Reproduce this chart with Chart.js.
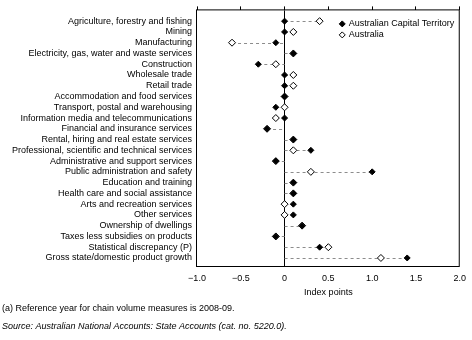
<!DOCTYPE html>
<html>
<head>
<meta charset="utf-8">
<script src="https://cdn.jsdelivr.net/npm/chart.js@4.4.1/dist/chart.umd.min.js"></script>
<style>
	body { margin: 0; background: #fff; }
	#chart { display: block; }
</style>
</head>
<body>
<canvas id="chart" width="472" height="340"></canvas>
<script>
// DATA
const categories = [
	'Agriculture, forestry and fishing',
	'Mining',
	'Manufacturing',
	'Electricity, gas, water and waste services',
	'Construction',
	'Wholesale trade',
	'Retail trade',
	'Accommodation and food services',
	'Transport, postal and warehousing',
	'Information media and telecommunications',
	'Financial and insurance services',
	'Rental, hiring and real estate services',
	'Professional, scientific and technical services',
	'Administrative and support services',
	'Public administration and safety',
	'Education and training',
	'Health care and social assistance',
	'Arts and recreation services',
	'Other services',
	'Ownership of dwellings',
	'Taxes less subsidies on products',
	'Statistical discrepancy (P)',
	'Gross state/domestic product growth'
];
const actValues = [0, 0, -0.1, 0.1, -0.3, 0, 0, 0, -0.1, 0, -0.2, 0.1, 0.3, -0.1, 1.0, 0.1, 0.1, 0.1, 0.1, 0.2, -0.1, 0.4, 1.4];
const ausValues = [0.4, 0.1, -0.6, 0.1, -0.1, 0.1, 0.1, 0, 0, -0.1, -0.2, 0.1, 0.1, -0.1, 0.3, 0.1, 0.1, 0, 0, 0.2, -0.1, 0.5, 1.1];
const xTicks = [-1, -0.5, 0, 0.5, 1, 1.5, 2];
const seriesNames = ['Australian Capital Territory', 'Australia'];
const footnote = '(a) Reference year for chain volume measures is 2008-09.';
const sourceNote = 'Source: Australian National Accounts: State Accounts (cat. no. 5220.0).';

const FONT = "'Liberation Sans', Arial, sans-serif";
Chart.defaults.font.family = FONT;
Chart.defaults.font.size = 9;
Chart.defaults.color = '#000';

function fmtTick(v) {
	if (v === 0) return '0';
	return (v < 0 ? '\u2212' : '') + Math.abs(v).toFixed(1);
}

function diamond(ctx, x, y, r, filled) {
	ctx.beginPath();
	ctx.moveTo(x, y - r);
	ctx.lineTo(x + r, y);
	ctx.lineTo(x, y + r);
	ctx.lineTo(x - r, y);
	ctx.closePath();
	ctx.fillStyle = filled ? '#000' : '#fff';
	ctx.fill();
	ctx.strokeStyle = '#000';
	ctx.lineWidth = 1;
	ctx.stroke();
}

// dashed connector from zero to the furthest point of each row
const dashPlugin = {
	id: 'dashes',
	beforeDatasetsDraw(chart) {
		const {ctx, scales: {x, y}} = chart;
		ctx.save();
		ctx.strokeStyle = '#8c8c8c';
		ctx.lineWidth = 1;
		ctx.setLineDash([3, 3]);
		categories.forEach((c, i) => {
			const lo = Math.min(0, actValues[i], ausValues[i]);
			const hi = Math.max(0, actValues[i], ausValues[i]);
			if (hi - lo <= 0) return;
			const py = Math.round(y.getPixelForValue(i)) + 0.5;
			ctx.beginPath();
			ctx.moveTo(x.getPixelForValue(lo), py);
			ctx.lineTo(x.getPixelForValue(hi), py);
			ctx.stroke();
		});
		ctx.restore();
	}
};

// frame, legend and notes
const extrasPlugin = {
	id: 'extras',
	afterDraw(chart) {
		const {ctx, chartArea: a} = chart;
		ctx.save();
		ctx.strokeStyle = '#000';
		ctx.lineWidth = 1;
		ctx.strokeRect(a.left - 0.5, a.top - 0.5, a.right - a.left, a.bottom - a.top);

		// legend
		ctx.font = '9px ' + FONT;
		ctx.textBaseline = 'middle';
		ctx.textAlign = 'left';
		seriesNames.forEach((name, i) => {
			const ly = a.top + 13.5 + i * 11;
			diamond(ctx, a.right - 117.5, ly, 3, i === 0);
			ctx.fillStyle = '#000';
			ctx.fillText(name, a.right - 111, ly);
		});

		// notes
		ctx.fillStyle = '#000';
		ctx.font = '9px ' + FONT;
		ctx.fillText(footnote, 2, 309);
		ctx.font = 'italic 9px ' + FONT;
		ctx.fillText(sourceNote, 2, 326);
		ctx.restore();
	}
};

const ctx = document.getElementById('chart').getContext('2d');

new Chart(ctx, {
	type: 'scatter',
	data: {
		datasets: [{
			label: seriesNames[0],
			data: actValues.map((v, i) => ({x: v, y: i})),
			pointStyle: 'rectRot',
			pointRadius: 3,
			backgroundColor: '#000',
			borderColor: '#000',
			borderWidth: 1
		},
		{
			label: seriesNames[1],
			data: ausValues.map((v, i) => ({x: v, y: i})),
			pointStyle: 'rectRot',
			pointRadius: 3.5,
			backgroundColor: '#fff',
			borderColor: '#000',
			borderWidth: 1
		}]
	},
	options: {
		responsive: false,
		animation: false,
		devicePixelRatio: 1,
		layout: {
			padding: {top: 0, right: 12, bottom: 42, left: 0}
		},
		plugins: {
			legend: {display: false},
			tooltip: {enabled: false}
		},
		scales: {
			x: {
				type: 'linear',
				position: 'bottom',
				min: -1,
				max: 2,
				afterBuildTicks: s => { s.ticks = xTicks.map(v => ({value: v})); },
				afterFit: s => { s.height = 31; },
				grid: {
					drawTicks: false,
					color: c => (c.tick && c.tick.value === 0) ? '#000' : 'rgba(0,0,0,0)'
				},
				border: {display: false},
				ticks: {padding: 6, maxRotation: 0, callback: v => fmtTick(v)},
				title: {display: true, text: 'Index points', padding: {top: 0, bottom: 0}}
			},
			x2: {
				type: 'linear',
				position: 'top',
				min: -1,
				max: 2,
				afterBuildTicks: s => { s.ticks = xTicks.map(v => ({value: v})); },
				afterFit: s => { s.height = 4; },
				grid: {drawOnChartArea: false, drawTicks: true, tickLength: 4, color: '#000'},
				border: {display: false},
				ticks: {display: false}
			},
			y: {
				type: 'linear',
				reverse: true,
				min: -1,
				max: 22.84,
				afterBuildTicks: s => { s.ticks = categories.map((c, i) => ({value: i})); },
				afterFit: s => { s.width = 197; },
				grid: {display: false, drawTicks: false},
				border: {display: false},
				ticks: {autoSkip: false, padding: 5, callback: v => categories[v]}
			}
		}
	},
	plugins: [dashPlugin, extrasPlugin]
});
</script>
</body>
</html>
